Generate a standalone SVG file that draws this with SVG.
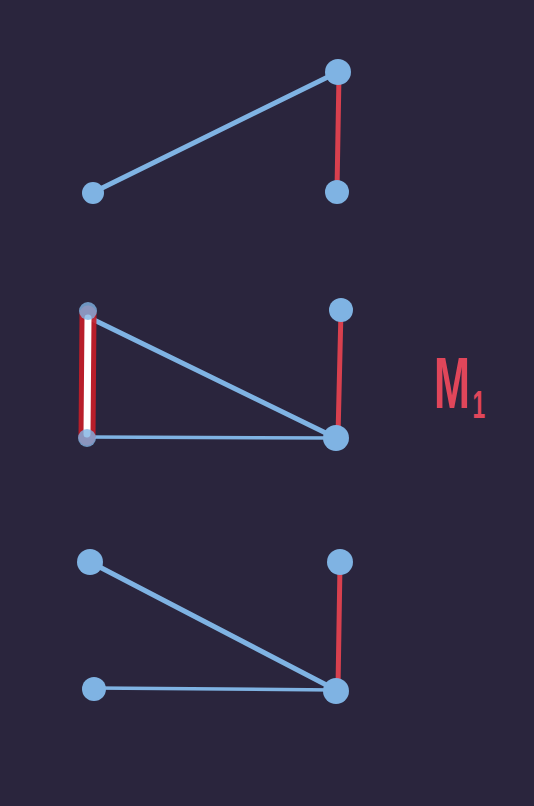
<svg xmlns="http://www.w3.org/2000/svg" width="534" height="806" viewBox="0 0 534 806">
<style>
.edge{stroke:#7fb3e3;stroke-width:5;stroke-linecap:round;fill:none}
.thin{stroke:#7fb3e3;stroke-width:3.5;stroke-linecap:round;fill:none}
.red{stroke:#d8404e;stroke-width:5;stroke-linecap:round;fill:none}
.node{fill:#7fb3e3}
.lbl{fill:#e0465a;font-family:"Liberation Sans",Arial,sans-serif;font-weight:bold}
</style>
<rect width="534" height="806" fill="#2a253d"/>
<g id="connectors">
  <line class="edge" x1="94" y1="192" x2="338" y2="72"/>
  <line class="red" x1="339" y1="74" x2="337" y2="190"/>
  <line class="edge" x1="90" y1="318" x2="334" y2="437"/>
  <line class="thin" x1="88" y1="437" x2="334" y2="438"/>
  <line class="red" x1="341" y1="310" x2="338" y2="436"/>
  <g id="highlight">
    <line x1="88" y1="314" x2="87" y2="437" stroke="#c81e28" stroke-width="17" stroke-linecap="round" opacity="0.9"/>
    <line x1="88" y1="318" x2="87" y2="434" stroke="#ffffff" stroke-width="7" stroke-linecap="round"/>
  </g>
  <line class="edge" x1="90" y1="562" x2="336" y2="690"/>
  <line class="thin" x1="94" y1="688" x2="336" y2="690"/>
  <line class="red" x1="340" y1="564" x2="338" y2="688"/>
</g>
<g id="n1"><circle class="node" cx="93" cy="193" r="11"/></g>
<g id="n2"><circle class="node" cx="338" cy="72" r="13"/></g>
<g id="n3"><circle class="node" cx="337" cy="192" r="12"/></g>
<g id="n4"><circle class="node" cx="88" cy="311" r="9" opacity="0.8"/></g>
<g id="n5"><circle class="node" cx="87" cy="438" r="9" opacity="0.8"/></g>
<g id="n6"><circle class="node" cx="341" cy="310" r="12"/></g>
<g id="n7"><circle class="node" cx="336" cy="438" r="13"/></g>
<g id="n8"><circle class="node" cx="90" cy="562" r="13"/></g>
<g id="n9"><circle class="node" cx="94" cy="689" r="12"/></g>
<g id="n10"><circle class="node" cx="340" cy="562" r="13"/></g>
<g id="n11"><circle class="node" cx="336" cy="691" r="13"/></g>
<g id="label">
  <text class="lbl" transform="translate(434,408) scale(0.6,1)" x="0" y="0" font-size="72">M<tspan font-size="38" dy="10" dx="4">1</tspan></text>
</g>
</svg>
